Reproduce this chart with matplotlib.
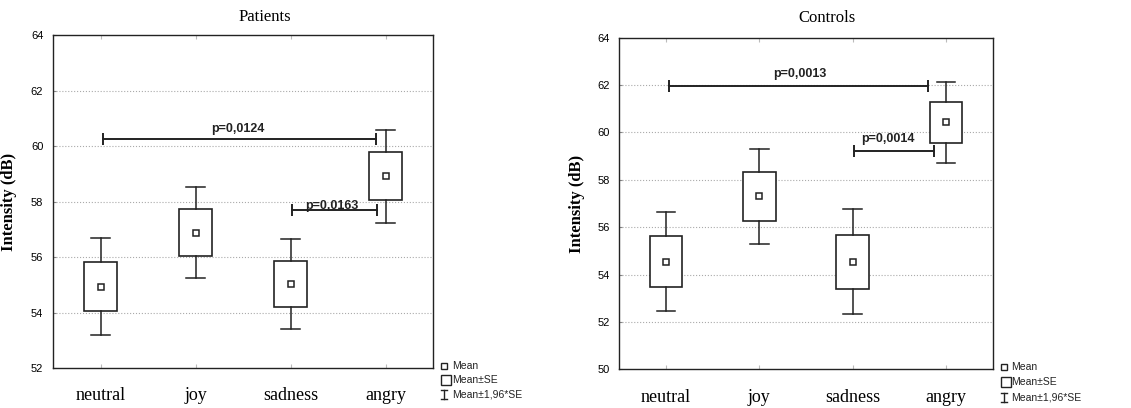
import matplotlib
matplotlib.use('Agg')
import matplotlib.pyplot as plt
import matplotlib.transforms as mtransforms
from matplotlib.patches import Rectangle
import numpy as np

# Data
categories = ['neutral', 'joy', 'sadness', 'angry']

patients_mean = [54.93, 56.88, 55.03, 58.91]
patients_se = [0.89, 0.84, 0.83, 0.86]

controls_mean = [54.54, 57.30, 54.54, 60.43]
controls_se = [1.07, 1.03, 1.13, 0.87]

# brackets: (x start, x end, height, label, label x, label offset in pt)
patients_brackets = [(0.03, 2.9, 60.24, 'p=0,0124', 1.45, 3),
                     (2.01, 2.91, 57.69, 'p=0,0163', 2.44, -1)]
controls_brackets = [(0.03, 2.81, 61.97, 'p=0,0013', 1.43, 4),
                     (2.01, 2.87, 59.23, 'p=0,0014', 2.38, 4)]

patients_yticks = np.arange(52, 65, 2)
controls_yticks = np.arange(50, 65, 2)

serif = 'Liberation Serif'
sans = 'Liberation Sans'
dark = '#222222'

fig = plt.figure(figsize=(11.31, 4.08), dpi=100)
ax1 = fig.add_axes([0.0469, 0.098, 0.336, 0.816])
ax2 = fig.add_axes([0.5476, 0.0949, 0.330, 0.8127])


def corner(ax):
    # pixel units, origin at bottom-right corner of the axes
    return (mtransforms.Affine2D().scale(1 / 100) + fig.dpi_scale_trans
            + mtransforms.ScaledTranslation(1, 0, ax.transAxes))


def draw_panel(ax, means, ses, yticks, brackets, label_x):
    x = np.arange(len(categories))
    means = np.array(means)
    ses = np.array(ses)
    bw = 0.35
    cw = 0.2
    for xi, m, s in zip(x, means, ses):
        lo, hi = m - 1.96 * s, m + 1.96 * s
        ax.add_patch(Rectangle((xi - bw / 2, m - s), bw, 2 * s,
                               facecolor='white', edgecolor=dark, linewidth=1.2, zorder=3))
        ax.plot([xi, xi], [m + s, hi], color=dark, linewidth=1.1, zorder=3)
        ax.plot([xi, xi], [lo, m - s], color=dark, linewidth=1.1, zorder=3)
        ax.plot([xi - cw / 2, xi + cw / 2], [hi, hi], color=dark, linewidth=1.1, zorder=3)
        ax.plot([xi - cw / 2, xi + cw / 2], [lo, lo], color=dark, linewidth=1.1, zorder=3)
    ax.plot(x, means, linestyle='none', marker='s', markersize=4.5,
            markerfacecolor='white', markeredgecolor=dark, markeredgewidth=1.1, zorder=4)

    for x0, x1, y, txt, tx, off in brackets:
        ax.plot([x0, x1], [y, y], color=dark, linewidth=1.4, zorder=3)
        ax.plot([x0, x1], [y, y], linestyle='none', marker='|', markersize=8,
                markeredgewidth=1.4, color=dark, zorder=3)
        ax.annotate(txt, (tx, y), xytext=(0, off), textcoords='offset points',
                    ha='center', va='bottom', fontsize=9, fontweight='bold',
                    family=sans, color=dark)

    ax.set_xlim(-0.5, len(categories) - 0.5)
    ax.set_ylim(yticks[0], yticks[-1])
    ax.set_xticks(x)
    ax.set_xticklabels(categories, family=serif, fontsize=13)
    ax.set_yticks(yticks)
    ax.set_yticklabels([str(v) for v in yticks], family=sans, fontsize=8)
    ax.tick_params(axis='x', direction='in', length=3, color='#bbbbbb', pad=14, top=True)
    ax.tick_params(axis='y', direction='in', length=2, color='#888888', pad=7)
    for yv in yticks[1:-1]:
        ax.axhline(yv, color='#aaaaaa', linestyle=':', linewidth=0.8, zorder=1)
    for sp in ax.spines.values():
        sp.set_linewidth(1.0)
        sp.set_color(dark)
    ax.set_ylabel('Intensity (dB)', family=serif, fontsize=12, fontweight='bold')
    ax.yaxis.set_label_coords(label_x, 0.5)


def draw_legend(ax, step):
    kw = dict(fontsize=7.5, family=sans, va='center', ha='left', color=dark)
    y1 = 2
    ax.plot([11], [y1], linestyle='none', marker='s', markersize=4, markerfacecolor='white',
            markeredgecolor=dark, markeredgewidth=1, transform=corner(ax), clip_on=False)
    ax.text(19, y1, 'Mean', transform=corner(ax), **kw)
    y2 = y1 - step
    ax.add_patch(Rectangle((8, y2 - 5), 10, 10, transform=corner(ax),
                           facecolor='white', edgecolor=dark, linewidth=1, clip_on=False))
    ax.text(19, y2, 'Mean±SE', transform=corner(ax), **kw)
    y3 = y2 - step
    ax.plot([11, 11], [y3 - 5, y3 + 4], color=dark, linewidth=1, transform=corner(ax), clip_on=False)
    for yy in (y3 - 5, y3 + 4):
        ax.plot([8, 14], [yy, yy], color=dark, linewidth=1, transform=corner(ax), clip_on=False)
    ax.text(19, y3, 'Mean±1,96*SE', transform=corner(ax), **kw)


draw_panel(ax1, patients_mean, patients_se, patients_yticks, patients_brackets, -0.095)
draw_panel(ax2, controls_mean, controls_se, controls_yticks, controls_brackets, -0.092)
draw_legend(ax1, 14)
draw_legend(ax2, 15)

fig.text(265 / 1131, 1 - 17 / 408, 'Patients', family=serif, fontsize=12, ha='center', va='center')
fig.text(827 / 1131, 1 - 18 / 408, 'Controls', family=serif, fontsize=12, ha='center', va='center')

fig.savefig('out.png', dpi=100)
